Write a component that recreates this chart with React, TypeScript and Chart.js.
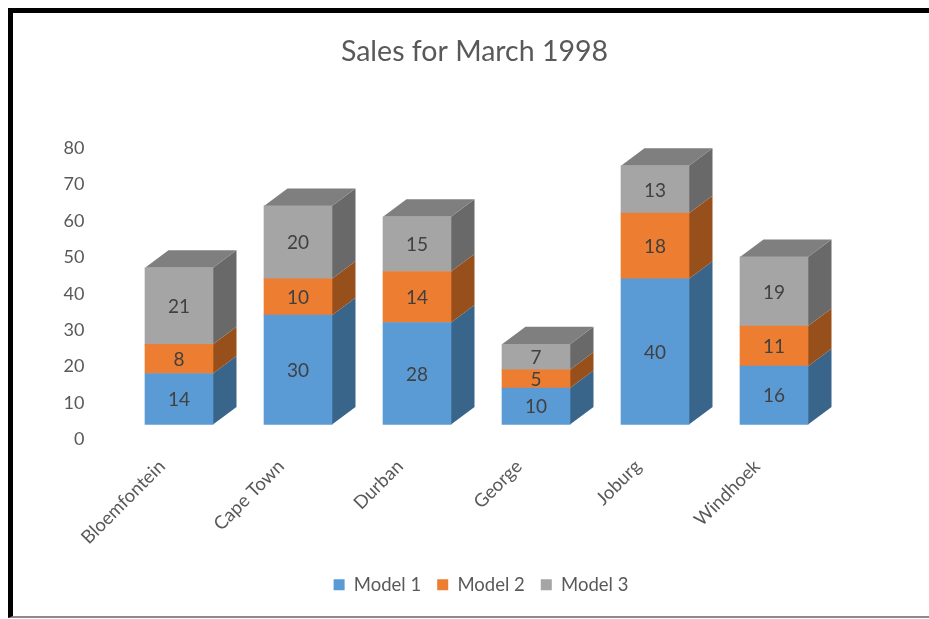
import React, { useEffect, useRef } from "react";
import { Chart, registerables } from "chart.js";

Chart.register(...registerables);

const cities = ["Bloemfontein", "Cape Town", "Durban", "George", "Joburg", "Windhoek"];
const model1 = [14, 30, 28, 10, 40, 16];
const model2 = [8, 10, 14, 5, 18, 11];
const model3 = [21, 20, 15, 7, 13, 19];
const yMax = 80;
const yStep = 10;

const FRONT = ["#5B9BD5", "#ED7D31", "#A5A5A5"];
const SIDE = ["#3A658A", "#97501C", "#696969"];
const TOP = "#7F7F7F";
const FONT = "Lato, Carlito, sans-serif";
const DEPTH_X = 23.5;
const DEPTH_Y = 17.5;
const LIFT = 15;

const poly = (ctx: CanvasRenderingContext2D, pts: number[][], fill: string) => {
  ctx.beginPath();
  pts.forEach((p, i) => (i ? ctx.lineTo(p[0], p[1]) : ctx.moveTo(p[0], p[1])));
  ctx.closePath();
  ctx.fillStyle = fill;
  ctx.fill();
};

const box3d = {
  id: "box3d",
  afterLayout(chart: any) {
    chart.legend.left += 13;
  },
  beforeDatasetsDraw(chart: any) {
    const ctx: CanvasRenderingContext2D = chart.ctx;
    ctx.save();
    ctx.translate(0, -LIFT);
    const last = chart.data.datasets.length - 1;
    chart.data.datasets.forEach((_: any, d: number) => {
      chart.getDatasetMeta(d).data.forEach((bar: any) => {
        const { x, y, base, width } = bar.getProps(["x", "y", "base", "width"], true);
        const r = x + width / 2;
        const l = x - width / 2;
        poly(ctx, [[r, y], [r + DEPTH_X, y - DEPTH_Y], [r + DEPTH_X, base - DEPTH_Y], [r, base]], SIDE[d]);
        if (d === last) {
          poly(ctx, [[l, y], [l + DEPTH_X, y - DEPTH_Y], [r + DEPTH_X, y - DEPTH_Y], [r, y]], TOP);
        }
      });
    });
  },
  afterDatasetsDraw(chart: any) {
    const ctx: CanvasRenderingContext2D = chart.ctx;
    ctx.font = `19px ${FONT}`;
    ctx.fillStyle = "#404040";
    ctx.textAlign = "center";
    ctx.textBaseline = "middle";
    chart.data.datasets.forEach((ds: any, d: number) => {
      chart.getDatasetMeta(d).data.forEach((bar: any, i: number) => {
        const { x, y, base } = bar.getProps(["x", "y", "base"], true);
        ctx.fillText(String(ds.data[i]), x, (y + base) / 2 + 1);
      });
    });
    ctx.restore();
  },
};

export default function App() {
  const ref = useRef<HTMLCanvasElement>(null);
  useEffect(() => {
    const chart = new Chart(ref.current!, {
      type: "bar",
      data: {
        labels: cities,
        datasets: [
          { label: "Model 1", data: model1, backgroundColor: FRONT[0] },
          { label: "Model 2", data: model2, backgroundColor: FRONT[1] },
          { label: "Model 3", data: model3, backgroundColor: FRONT[2] },
        ].map((d) => ({ ...d, barThickness: 68, borderWidth: 0, clip: false as any })),
      },
      plugins: [box3d],
      options: {
        responsive: false,
        animation: false,
        layout: { padding: { left: 20, right: 0, top: 0, bottom: 15 } },
        plugins: {
          title: {
            display: true,
            text: "Sales for March 1998",
            color: "#595959",
            font: { family: FONT, size: 28.5, weight: "normal", lineHeight: 1.2 },
            padding: { top: 35, bottom: 78.8 },
          },
          legend: {
            position: "bottom",
            labels: {
              boxWidth: 11,
              boxHeight: 11,
              padding: 16,
              color: "#595959",
              font: { family: FONT, size: 18.5 },
            },
          },
          tooltip: { enabled: false },
        },
        scales: {
          x: {
            stacked: true,
            grid: { display: false, drawTicks: false },
            border: { display: false },
            ticks: {
              color: "#595959",
              font: { family: FONT, size: 18.5 },
              minRotation: 45,
              maxRotation: 45,
              padding: 16,
              labelOffset: -17,
              autoSkip: false,
            },
            afterFit(s: any) {
              s.height = 120;
            },
          },
          y: {
            stacked: true,
            min: 0,
            max: yMax,
            grid: { display: false, drawTicks: false },
            border: { display: false },
            ticks: {
              stepSize: yStep,
              color: "#595959",
              font: { family: FONT, size: 18 },
              padding: 35,
            },
            afterFit(s: any) {
              s.width = 99.5;
            },
          },
          right: {
            position: "right",
            display: true,
            grid: { display: false, drawTicks: false },
            border: { display: false },
            ticks: { display: false },
            afterFit(s: any) {
              s.width = 95.5;
            },
          },
        },
      } as any,
    });
    return () => chart.destroy();
  }, []);

  return (
    <div style={{ position: "fixed", left: 0, top: 0, width: 929, height: 619, background: "#fff", overflow: "hidden" }}>
      <canvas ref={ref} width={929} height={619} style={{ position: "absolute", left: 0, top: 0, display: "block" }} />
      <div
        style={{
          position: "absolute",
          left: 8,
          top: 8,
          width: 921,
          height: 610,
          boxSizing: "border-box",
          borderTop: "5px solid #000",
          borderLeft: "5px solid #000",
          borderBottom: "2px solid #8a8a8a",
          pointerEvents: "none",
        }}
      />
    </div>
  );
}
